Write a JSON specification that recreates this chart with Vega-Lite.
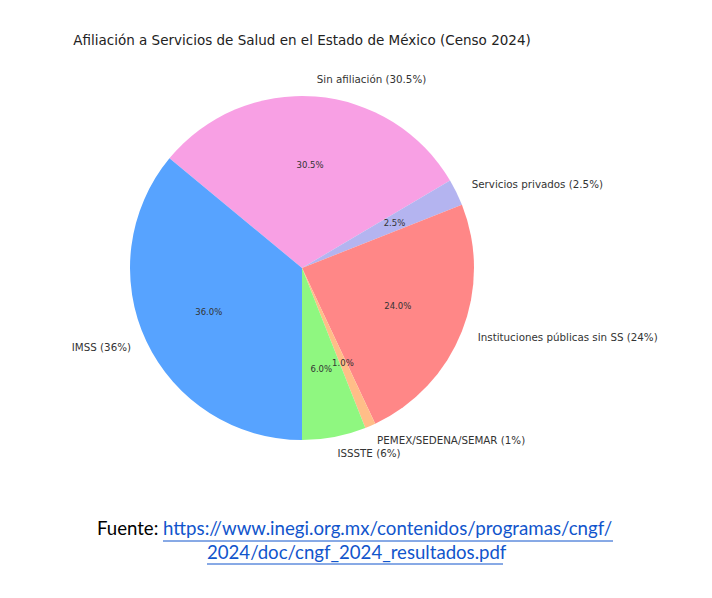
{
  "$schema": "https://vega.github.io/schema/vega-lite/v6.json",
  "width": 604,
  "height": 536,
  "autosize": "none",
  "padding": {"left": 0, "top": 0, "right": 108, "bottom": 62},
  "background": "white",
  "config": {"view": {"stroke": null}},
  "title": {
    "text": "Afiliación a Servicios de Salud en el Estado de México (Censo 2024)",
    "font": "DejaVu Sans",
    "fontSize": 13.5,
    "fontWeight": "normal",
    "color": "#222222",
    "anchor": "middle",
    "frame": "group",
    "offset": -47
  },
  "data": {
    "values": [
      {"categoria": "Sin afiliación", "valor": 30.5, "etiqueta": "Sin afiliación (30.5%)", "pct": "30.5%", "orden": 1},
      {"categoria": "Servicios privados", "valor": 2.5, "etiqueta": "Servicios privados (2.5%)", "pct": "2.5%", "orden": 2},
      {"categoria": "Instituciones públicas sin SS", "valor": 24, "etiqueta": "Instituciones públicas sin SS (24%)", "pct": "24.0%", "orden": 3},
      {"categoria": "PEMEX/SEDENA/SEMAR", "valor": 1, "etiqueta": "PEMEX/SEDENA/SEMAR (1%)", "pct": "1.0%", "orden": 4},
      {"categoria": "ISSSTE", "valor": 6, "etiqueta": "ISSSTE (6%)", "pct": "6.0%", "orden": 5},
      {"categoria": "IMSS", "valor": 36, "etiqueta": "IMSS (36%)", "pct": "36.0%", "orden": 6}
    ]
  },
  "layer": [
    {
      "mark": {"type": "arc", "outerRadius": 172, "strokeWidth": 0},
      "encoding": {
        "theta": {"field": "valor", "type": "quantitative", "stack": true, "scale": {"range": [-0.8796, 5.4035]}},
        "order": {"field": "orden", "type": "quantitative"},
        "color": {
          "field": "categoria",
          "type": "nominal",
          "legend": null,
          "scale": {
            "domain": ["Sin afiliación", "Servicios privados", "Instituciones públicas sin SS", "PEMEX/SEDENA/SEMAR", "ISSSTE", "IMSS"],
            "range": ["#f8a0e4", "#b4b4f0", "#ff8787", "#ffbe88", "#8ff780", "#57a3ff"]
          }
        }
      }
    },
    {
      "mark": {"type": "text", "radius": 103, "font": "DejaVu Sans", "fontSize": 8.5, "color": "#333333", "align": "center", "baseline": "middle"},
      "encoding": {
        "theta": {"field": "valor", "type": "quantitative", "stack": true, "scale": {"range": [-0.8796, 5.4035]}},
        "order": {"field": "orden", "type": "quantitative"},
        "detail": {"field": "categoria", "type": "nominal"},
        "text": {"field": "pct", "type": "nominal"}
      }
    },
    {
      "mark": {"type": "text", "radius": 189, "font": "DejaVu Sans", "fontSize": 10.3, "color": "#333333", "baseline": "middle", "align": {"expr": "datum.categoria === 'IMSS' ? 'right' : 'left'"}},
      "encoding": {
        "theta": {"field": "valor", "type": "quantitative", "stack": true, "scale": {"range": [-0.8796, 5.4035]}},
        "order": {"field": "orden", "type": "quantitative"},
        "detail": {"field": "categoria", "type": "nominal"},
        "text": {"field": "etiqueta", "type": "nominal"}
      }
    },
    {
      "data": {"values": [{"linea": "Fuente:"}]},
      "mark": {"type": "text", "x": 97, "y": 535, "align": "left", "baseline": "alphabetic", "font": "Lato", "fontSize": 18.6, "color": "#000000"},
      "encoding": {"text": {"field": "linea", "type": "nominal"}}
    },
    {
      "data": {"values": [{"linea": "https://www.inegi.org.mx/contenidos/programas/cngf/"}]},
      "mark": {"type": "text", "x": 163, "y": 535, "align": "left", "baseline": "alphabetic", "font": "Lato", "fontSize": 18.7, "color": "#1155cc"},
      "encoding": {"text": {"field": "linea", "type": "nominal"}}
    },
    {
      "data": {"values": [{"linea": "2024/doc/cngf_2024_resultados.pdf"}]},
      "mark": {"type": "text", "x": 207, "y": 559, "align": "left", "baseline": "alphabetic", "font": "Lato", "fontSize": 18.6, "color": "#1155cc"},
      "encoding": {"text": {"field": "linea", "type": "nominal"}}
    },
    {
      "data": {"values": [{"subrayado": "linea 1"}]},
      "mark": {"type": "rule", "color": "#1155cc", "strokeWidth": 1},
      "encoding": {"x": {"value": 163}, "x2": {"value": 613}, "y": {"value": 541}, "y2": {"value": 541}}
    },
    {
      "data": {"values": [{"subrayado": "linea 2"}]},
      "mark": {"type": "rule", "color": "#1155cc", "strokeWidth": 1},
      "encoding": {"x": {"value": 207}, "x2": {"value": 503}, "y": {"value": 564}, "y2": {"value": 564}}
    }
  ]
}
